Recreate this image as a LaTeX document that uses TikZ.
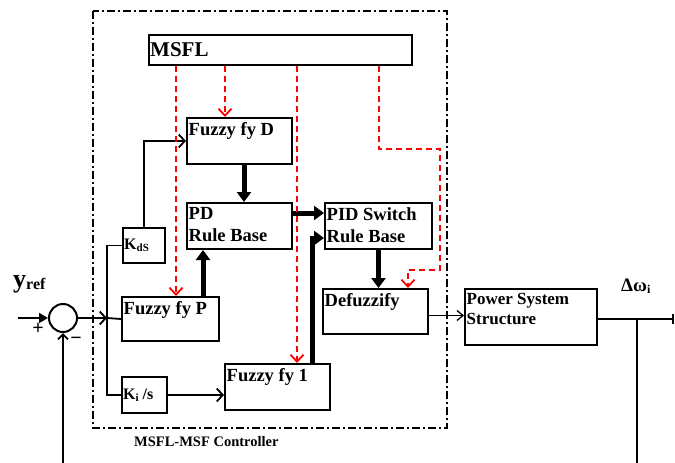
\documentclass[tikz,border=0pt]{standalone}
\usepackage{fontspec}
\setmainfont{Liberation Serif}
\usepackage{tikz}
\usetikzlibrary{arrows.meta}
\definecolor{BlockBlack}{HTML}{000000}
\definecolor{CtrlRed}{HTML}{FF0000}
\newcommand\lowidx[2][10]{\raisebox{-2.5pt}{\fontsize{#1}{#1}\selectfont #2}}

\begin{document}
\begin{tikzpicture}[x=1pt,y=-1pt,
    blk/.style={draw=BlockBlack,line width=2pt,inner sep=0pt,anchor=north west},
    blktxt/.style={anchor=north west,inner xsep=2.5pt,inner ysep=5pt,align=left,
      font=\fontsize{18.5}{22}\selectfont\bfseries},
    gaintxt/.style={anchor=west,inner sep=2pt,font=\fontsize{16}{16}\selectfont\bfseries},
    link/.style={draw=BlockBlack,line width=1.8pt},
    linkarr/.style={link,-{Straight Barb[length=6pt,width=13pt,line width=1.8pt]}},
    inarr/.style={link,-{Triangle[length=9pt,width=10pt]}},
    fatarr/.style={draw=BlockBlack,line width=5pt,-{Triangle[length=10pt,width=14pt]}},
    ctrl/.style={draw=CtrlRed,line width=1.8pt,dash pattern=on 6pt off 4pt,
      -{Straight Barb[length=7pt,width=13pt,line width=1.8pt]}},
    frame/.style={draw=BlockBlack,line width=2pt,dash pattern=on 8pt off 3pt on 2pt off 3pt}]
  \useasboundingbox (0,0) rectangle (675,463);
  % controller frame
  \draw[frame] (93,11) rectangle (447,428);
  \node[anchor=base west,inner sep=0pt,font=\fontsize{14.5}{16}\selectfont\bfseries] (ctrllbl) at (134,446) {MSFL-MSF Controller};
  % blocks
  \node[blk,minimum width=263pt,minimum height=30pt,
    label={[blktxt,anchor=west,inner xsep=2pt,font=\fontsize{21}{24}\selectfont\bfseries]west:MSFL}] (msfl) at (148,34) {};
  \node[blk,minimum width=105pt,minimum height=46pt,label={[blktxt]north west:Fuzzy fy D}] (fuzD) at (186,117) {};
  \node[blk,minimum width=105pt,minimum height=46pt,label={[blktxt]north west:PD\\Rule Base}] (pdrb) at (186,202) {};
  \node[blk,minimum width=107pt,minimum height=46pt,label={[blktxt]north west:PID Switch\\Rule Base}] (pidrb) at (324,202) {};
  \node[blk,minimum width=105pt,minimum height=45pt,label={[blktxt]north west:Defuzzify}] (defz) at (322,288) {};
  \node[blk,minimum width=132pt,minimum height=56pt,
    label={[blktxt,font=\fontsize{17}{20}\selectfont\bfseries]north west:Power System\\Structure}] (pss) at (464,288) {};
  \node[blk,minimum width=97pt,minimum height=44pt,label={[blktxt]north west:Fuzzy fy P}] (fuzP) at (121,296) {};
  \node[blk,minimum width=105pt,minimum height=46pt,label={[blktxt]north west:Fuzzy fy 1}] (fuz1) at (224,363) {};
  \node[blk,minimum width=42pt,minimum height=35pt,label={[gaintxt]west:K\lowidx[11]{dS}}] (kds) at (122,227) {};
  \node[blk,minimum width=45pt,minimum height=36pt,label={[gaintxt]west:K\lowidx[11]{i} /s}] (kis) at (121,376) {};
  \node[draw=BlockBlack,line width=2pt,circle,minimum size=28pt,inner sep=0pt] (sum) at (63,318) {};
  % signs and signal names
  \node[anchor=base west,inner sep=0pt,font=\fontsize{26}{26}\selectfont\bfseries] (yref) at (13,287) {y\lowidx[16]{ref}};
  \node[font=\fontsize{20}{20}\selectfont\bfseries] (plus) at (38,329) {+};
  \node[font=\fontsize{20}{20}\selectfont\bfseries] (minus) at (76,341) {−};
  \node[anchor=base west,inner sep=0pt,font=\fontsize{19}{19}\selectfont\bfseries] (dw) at (621,291) {Δω\lowidx[12]{i}};
  % input side
  \coordinate (yIn) at (18,318);
  \coordinate (fbIn) at (63,463);
  \coordinate (busIn) at (107,318);
  \draw[inarr] (yIn) -- (sum.west);
  \draw[link,-{Straight Barb[length=5pt,width=10pt,line width=1.8pt]}] (fbIn) -- (sum.south);
  \draw[linkarr] (sum.east) -- (busIn);
  \draw[link] (busIn) -- (fuzP.west);
  \draw[link] (kds.west) -| (busIn) |- (kis.west);
  \draw[linkarr] (kds.north) |- (fuzD.west);
  \draw[linkarr] (kis.east) -- (kis.east -| fuz1.west);
  % rule base paths
  \draw[fatarr] ([xshift=4.5pt]fuzD.south) -- ([xshift=4.5pt]pdrb.north);
  \draw[fatarr] ([xshift=17pt]pdrb.south west |- fuzP.north) -- ([xshift=17pt]pdrb.south west);
  \draw[fatarr] ([yshift=13pt]pdrb.east) -- ([yshift=13pt]pidrb.west);
  \draw[fatarr] ([xshift=-19pt]fuz1.north east) |- ([yshift=-12pt]pidrb.west);
  \draw[fatarr] (pidrb.south) -- (pidrb.south |- defz.north);
  % MSFL supervision
  \draw[ctrl] ([xshift=28pt]msfl.south west) coordinate (tapP) -- (tapP |- fuzP.north);
  \draw[ctrl] ([xshift=77pt]msfl.south west) coordinate (tapD) -- (tapD |- fuzD.north);
  \draw[ctrl] ([xshift=149pt]msfl.south west) coordinate (tap1) -- (tap1 |- fuz1.north);
  \draw[ctrl] ([xshift=231pt]msfl.south west) -- ++(0,83) -- ++(61,0) -- ++(0,121) -- ++(-32,0) coordinate (bendDf) -- (bendDf |- defz.north);
  % plant and output
  \coordinate (outEnd) at (674,319);
  \coordinate (fbTap) at (637,319);
  \coordinate (fbOut) at (637,463);
  \draw[draw=BlockBlack,line width=1.3pt,-{Straight Barb[length=6pt,width=10pt,line width=1.3pt]}] ([yshift=-4pt]defz.east) -- ([yshift=-4pt]defz.east -| pss.west);
  \draw[link,-{Bar[width=10pt,line width=1.8pt]}] (pss.east |- outEnd) -- (outEnd);
  \draw[link] (fbTap) -- (fbOut);
\end{tikzpicture}
\end{document}
